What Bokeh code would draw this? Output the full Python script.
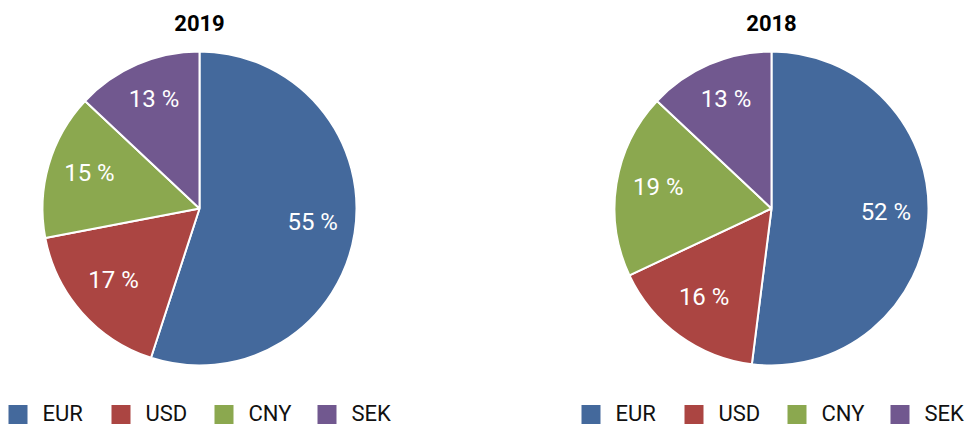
import math
from bokeh.plotting import figure
from bokeh.models import Range1d, ColumnDataSource
from bokeh.core.properties import value
from bokeh.embed import file_html
from bokeh.resources import INLINE

# ---- data ----
currencies = ["EUR", "USD", "CNY", "SEK"]
years = ["2019", "2018"]
shares_2019 = [55, 17, 15, 13]
shares_2018 = [52, 16, 19, 13]
colors = ["#44699C", "#AB4542", "#8BA84F", "#71588F"]

W, H = 966, 425
p = figure(width=W, height=H, output_backend="svg", toolbar_location=None,
           x_range=Range1d(0, W), y_range=Range1d(425 - H, 425),
           min_border=0)
p.axis.visible = False
p.grid.visible = False
p.outline_line_color = None
p.background_fill_color = "white"
p.border_fill_color = "white"

FONT = "Roboto"
R = 157
centers = [(199, 217), (771, 217)]
legend_x0 = [8, 581]

for (cx, cy), year, shares, lx0 in zip(centers, years, [shares_2019, shares_2018], legend_x0):
    total = float(sum(shares))
    starts, ends, lab_x, lab_y, labs = [], [], [], [], []
    cum = 0.0
    for s in shares:
        a0 = cum / total
        cum += s
        a1 = cum / total
        # clockwise from 12 o'clock
        starts.append(math.radians(90 - a1 * 360))
        ends.append(math.radians(90 - a0 * 360))
        mid = math.radians(90 - (a0 + a1) / 2 * 360)
        lr = 0.73 * R
        lab_x.append(cx + lr * math.cos(mid))
        lab_y.append(cy + lr * math.sin(mid) + 4)
        labs.append(f"{s} %")
    src = ColumnDataSource(dict(start=starts, end=ends, color=colors,
                                lx=lab_x, ly=lab_y, lab=labs))
    p.wedge(x=cx, y=cy, radius=R, start_angle="start", end_angle="end",
            fill_color="color", line_color="white", line_width=2, source=src)
    p.text(x="lx", y="ly", text="lab", source=src, text_color="white",
           text_font=value(FONT), text_font_size="24px",
           text_align="center", text_baseline="middle")
    # title
    p.text(x=[cx], y=[425 - 22], text=[year], text_color="black",
           text_font=value(FONT), text_font_size="22px", text_font_style="bold",
           text_align="center", text_baseline="middle")
    # legend
    step = 103
    sq_x = [lx0 + 9.5 + i * step for i in range(len(currencies))]
    tx = [lx0 + 34 + i * step for i in range(len(currencies))]
    ly = 425 - 413
    p.rect(x=sq_x, y=[425 - 414] * 4, width=19, height=19, fill_color=colors, line_color=None)
    p.text(x=tx, y=[ly] * 4, text=currencies, text_color="#111111",
           text_font=value(FONT), text_font_size="22px",
           text_align="left", text_baseline="middle")

open("out.html", "w").write(file_html(p, INLINE))
